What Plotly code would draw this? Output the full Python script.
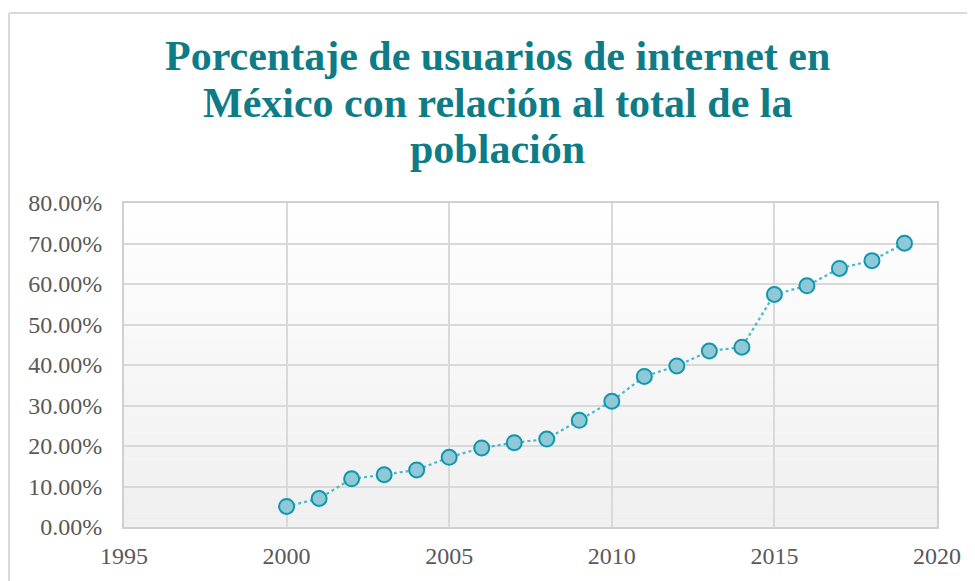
import plotly.graph_objects as go

# Porcentaje de usuarios de internet en México
years = [2000, 2001, 2002, 2003, 2004, 2005, 2006, 2007, 2008, 2009,
         2010, 2011, 2012, 2013, 2014, 2015, 2016, 2017, 2018, 2019]
pct_users = [0.0508, 0.0704, 0.1190, 0.1290, 0.1410, 0.1721, 0.1952, 0.2081, 0.2171, 0.2634,
             0.3105, 0.3718, 0.3975, 0.4346, 0.4439, 0.5743, 0.5954, 0.6385, 0.6577, 0.7007]

title_lines = ["Porcentaje de usuarios de internet en",
               "México con relación al total de la",
               "población"]

# page has an 8px body margin, so figure coords are screen coords - 8
OFF = 8
W, H = 975, 581
L, T = 124 - OFF, 203 - OFF
R, B = W - (937 - OFF), H - (527 - OFF)
pw, ph = W - L - R, H - T - B


def px_x(x):
    return (x - OFF - L) / pw


def px_y(y):
    return (H - B - (y - OFF)) / ph


fig = go.Figure()

fig.add_trace(go.Scatter(
    x=years, y=pct_users, mode="lines+markers",
    line=dict(color="#4bb8cc", width=2.2, dash="dot"),
    marker=dict(size=15, color="#8fc8d6", line=dict(color="#0e97ad", width=2)),
    hoverinfo="x+y", showlegend=False,
))

# soft vertical gradient in plot area (white top -> light grey bottom)
shapes = []
n = 24
for i in range(n):
    g = int(255 - (255 - 240) * (i + 0.5) / n)
    shapes.append(dict(
        type="rect", xref="paper", yref="paper", layer="below",
        x0=0, x1=1, y0=1 - (i + 1) / n, y1=1 - i / n,
        fillcolor=f"rgb({g},{g},{g})", line=dict(width=0),
    ))

# outer chart border (left and top)
bx, by = px_x(9), px_y(13)
shapes.append(dict(type="line", xref="paper", yref="paper",
                   x0=bx, x1=px_x(976), y0=by, y1=by,
                   line=dict(color="#d9d9d9", width=2)))
shapes.append(dict(type="line", xref="paper", yref="paper",
                   x0=bx, x1=bx, y0=by, y1=px_y(600),
                   line=dict(color="#d9d9d9", width=2)))

title_font = dict(family="Liberation Serif, DejaVu Serif, serif", size=42,
                  color="#0e7c86", weight="bold")
annotations = []
for line, yc in zip(title_lines, [56, 103, 149]):
    annotations.append(dict(
        text=line, xref="paper", yref="paper",
        x=px_x(497), y=px_y(yc), xanchor="center", yanchor="middle",
        showarrow=False, font=title_font,
    ))

tick_font = dict(family="Liberation Serif, DejaVu Serif, serif", size=24, color="#595959")

fig.update_layout(
    width=W, height=H,
    margin=dict(l=L, r=R, t=T, b=B),
    paper_bgcolor="white",
    plot_bgcolor="rgba(0,0,0,0)",
    shapes=shapes,
    annotations=annotations,
    xaxis=dict(
        range=[1995, 2020], dtick=5, tick0=1995,
        showgrid=True, gridcolor="#d9d9d9", gridwidth=1.5,
        showline=True, linecolor="#d0d0d0", linewidth=2, mirror=True,
        ticks="", tickfont=tick_font, ticklabelstandoff=6,
        zeroline=False, fixedrange=True, automargin=False,
    ),
    yaxis=dict(
        range=[0, 0.8], dtick=0.1, tickformat=".2%",
        showgrid=True, gridcolor="#d9d9d9", gridwidth=1.5,
        showline=True, linecolor="#d0d0d0", linewidth=2, mirror=True,
        ticks="", tickfont=tick_font, ticklabelstandoff=15,
        zeroline=False, fixedrange=True, automargin=False,
    ),
)

fig.write_html("out.html")
